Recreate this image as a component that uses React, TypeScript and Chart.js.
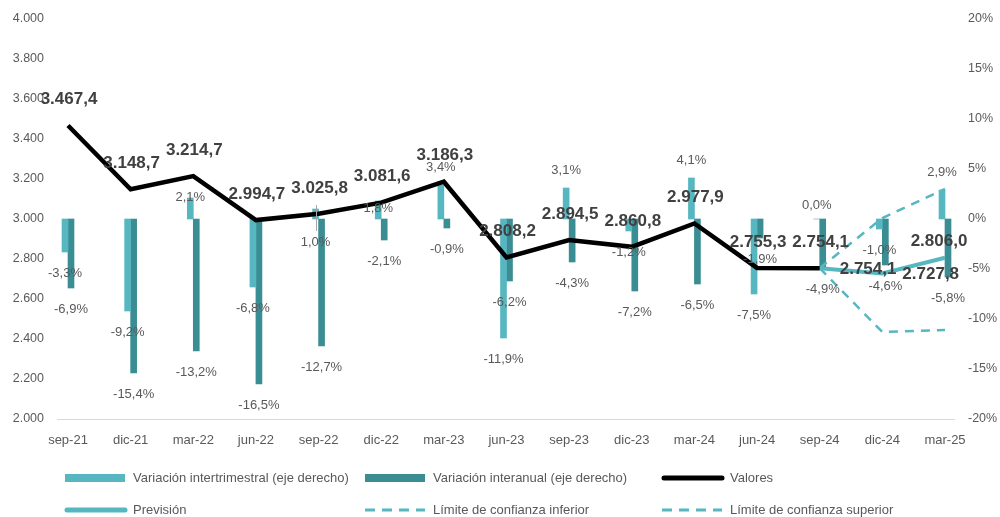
import React, { useEffect, useRef } from "react";
import { Chart, registerables } from "chart.js";

Chart.register(...registerables);

const categories = [
  "sep-21", "dic-21", "mar-22", "jun-22", "sep-22", "dic-22", "mar-23", "jun-23",
  "sep-23", "dic-23", "mar-24", "jun-24", "sep-24", "dic-24", "mar-25",
];
const intertrimestral = [-3.3, -9.2, 2.1, -6.8, 1.0, 1.8, 3.4, -11.9, 3.1, -1.2, 4.1, -7.5, 0.0, -1.0, 2.9];
const interanual = [-6.9, -15.4, -13.2, -16.5, -12.7, -2.1, -0.9, -6.2, -4.3, -7.2, -6.5, -1.9, -4.9, -4.6, -5.8];
const valores = [3467.4, 3148.7, 3214.7, 2994.7, 3025.8, 3081.6, 3186.3, 2808.2, 2894.5, 2860.8, 2977.9, 2755.3, 2754.1, null, null];
const prevision = [null, null, null, null, null, null, null, null, null, null, null, null, 2754.1, 2727.8, 2806.0];
const limiteInferior = [null, null, null, null, null, null, null, null, null, null, null, null, 2754.1, 2435, 2445];
const limiteSuperior = [null, null, null, null, null, null, null, null, null, null, null, null, 2754.1, 3005, 3150];

const leftMin = 2000;
const leftMax = 4000;
const leftStep = 200;
const rightMin = -20;
const rightMax = 20;
const rightStep = 5;

const LIGHT = "#57B7C1";
const DARK = "#3A8D93";
const TEXT = "#595959";
const VALUE_TEXT = "#404040";
const FONT = "'Liberation Sans', Arial, sans-serif";

function fmtNum(v: number, dec: number): string {
  const s = Math.abs(v).toFixed(dec);
  const [int, frac] = s.split(".");
  const withDots = int.replace(/\B(?=(\d{3})+(?!\d))/g, ".");
  return (v < 0 ? "-" : "") + withDots + (frac ? "," + frac : "");
}

// manual nudges of a few bar labels (dataset 0), in px
const barLabelNudge: Record<number, number> = { 2: 17, 4: 51, 5: 25, 12: 4 };
// placement of forecast labels
const previsionAlign: Record<number, string> = { 12: "right", 13: "right", 14: "top" };

const labelsPlugin = {
  id: "customLabels",
  afterDatasetsDraw(chart: any) {
    const ctx = chart.ctx;
    ctx.save();
    [0, 1].forEach((di) => {
      const meta = chart.getDatasetMeta(di);
      const data = chart.data.datasets[di].data as number[];
      ctx.font = `13px ${FONT}`;
      ctx.fillStyle = TEXT;
      ctx.textAlign = "center";
      ctx.textBaseline = "middle";
      meta.data.forEach((el: any, i: number) => {
        const v = data[i];
        if (v === null || v === undefined) return;
        let y = v < 0 ? el.y + 21 : el.y - 18;
        if (di === 0 && barLabelNudge[i]) y += barLabelNudge[i];
        ctx.fillText(fmtNum(v, 1) + "%", el.x, y);
      });
    });
    // thin leader line for the moved sep-22 label
    {
      const el: any = chart.getDatasetMeta(0).data[4];
      if (el) {
        ctx.strokeStyle = "#A6A6A6";
        ctx.lineWidth = 1;
        ctx.beginPath();
        ctx.moveTo(Math.round(el.x) + 0.5, el.y - 4);
        ctx.lineTo(Math.round(el.x) + 0.5, el.y + 22);
        ctx.stroke();
      }
    }
    ctx.font = `bold 17px ${FONT}`;
    ctx.fillStyle = VALUE_TEXT;
    {
      const meta = chart.getDatasetMeta(2);
      const data = chart.data.datasets[2].data as (number | null)[];
      meta.data.forEach((el: any, i: number) => {
        const v = data[i];
        if (v === null || v === undefined) return;
        ctx.textAlign = "center";
        ctx.textBaseline = "middle";
        ctx.fillText(fmtNum(v, 1), el.x + 1, el.y - 26);
      });
    }
    {
      const meta = chart.getDatasetMeta(3);
      const data = chart.data.datasets[3].data as (number | null)[];
      meta.data.forEach((el: any, i: number) => {
        const v = data[i];
        if (v === null || v === undefined) return;
        const al = previsionAlign[i] || "top";
        ctx.textBaseline = "middle";
        if (al === "right") {
          ctx.textAlign = "left";
          ctx.fillText(fmtNum(v, 1), el.x + 20, el.y + 1);
        } else {
          ctx.textAlign = "center";
          ctx.fillText(fmtNum(v, 1), el.x - 6, el.y - 16);
        }
      });
    }
    ctx.restore();
  },
};

const axisLinePlugin = {
  id: "axisLine",
  beforeDatasetsDraw(chart: any) {
    const { ctx, chartArea } = chart;
    ctx.save();
    ctx.strokeStyle = "#D9D9D9";
    ctx.lineWidth = 1;
    ctx.beginPath();
    ctx.moveTo(chartArea.left - 11, Math.round(chartArea.bottom) + 0.5);
    ctx.lineTo(chartArea.right + 10, Math.round(chartArea.bottom) + 0.5);
    ctx.stroke();
    ctx.restore();
  },
};

const legendPlugin = {
  id: "gridLegend",
  afterDraw(chart: any) {
    const ctx = chart.ctx;
    const cols = [65, 365, 662];
    const rows = [478, 510];
    const order = [0, 1, 2, 3, 4, 5];
    ctx.save();
    order.forEach((di, k) => {
      const ds = chart.data.datasets[di];
      const x = cols[k % 3];
      const y = rows[Math.floor(k / 3)];
      ctx.save();
      if (ds.type === "line") {
        ctx.strokeStyle = ds.borderColor;
        ctx.lineWidth = ds.borderDash ? 3 : 5;
        ctx.lineCap = ds.borderDash ? "butt" : "round";
        ctx.setLineDash(ds.borderDash ? [10, 7] : []);
        ctx.beginPath();
        ctx.moveTo(x + (ds.borderDash ? 0 : 2), y);
        ctx.lineTo(x + 60, y);
        ctx.stroke();
      } else {
        ctx.fillStyle = ds.backgroundColor;
        ctx.fillRect(x, y - 4, 60, 8);
      }
      ctx.restore();
      ctx.font = `13px ${FONT}`;
      ctx.fillStyle = TEXT;
      ctx.textAlign = "left";
      ctx.textBaseline = "middle";
      ctx.fillText(ds.label, x + 68, y);
    });
    ctx.restore();
  },
};

export default function App() {
  const canvasRef = useRef<HTMLCanvasElement | null>(null);

  useEffect(() => {
    if (!canvasRef.current) return;
    const chart = new Chart(canvasRef.current, {
      type: "bar",
      data: {
        labels: categories,
        datasets: [
          {
            type: "bar",
            label: "Variación intertrimestral (eje derecho)",
            data: intertrimestral,
            backgroundColor: LIGHT,
            yAxisID: "y1",
            barThickness: 6,
            order: 2,
            clip: false,
          } as any,
          {
            type: "bar",
            label: "Variación interanual (eje derecho)",
            data: interanual,
            backgroundColor: DARK,
            yAxisID: "y1",
            barThickness: 6,
            order: 2,
            clip: false,
          } as any,
          {
            type: "line",
            label: "Valores",
            data: valores,
            borderColor: "#000000",
            backgroundColor: "#000000",
            borderWidth: 4.5,
            pointRadius: 0,
            tension: 0,
            yAxisID: "y",
            order: 1,
          } as any,
          {
            type: "line",
            label: "Previsión",
            data: prevision,
            borderColor: LIGHT,
            backgroundColor: LIGHT,
            borderWidth: 4,
            pointRadius: 0,
            tension: 0,
            yAxisID: "y",
            order: 1,
          } as any,
          {
            type: "line",
            label: "Límite de confianza inferior",
            data: limiteInferior,
            borderColor: LIGHT,
            backgroundColor: LIGHT,
            borderWidth: 2.5,
            borderDash: [9, 7],
            pointRadius: 0,
            tension: 0,
            yAxisID: "y",
            order: 1,
          } as any,
          {
            type: "line",
            label: "Límite de confianza superior",
            data: limiteSuperior,
            borderColor: LIGHT,
            backgroundColor: LIGHT,
            borderWidth: 2.5,
            borderDash: [9, 7],
            pointRadius: 0,
            tension: 0,
            yAxisID: "y",
            order: 1,
          } as any,
        ],
      },
      options: {
        responsive: false,
        animation: false,
        layout: { padding: { top: 19, bottom: 68, left: 0, right: 0 } },
        plugins: {
          legend: { display: false },
          tooltip: { enabled: false },
        },
        scales: {
          x: {
            type: "category",
            offset: false,
            grid: { display: false, drawTicks: false },
            border: { display: false },
            ticks: {
              color: TEXT,
              font: { family: FONT, size: 13 },
              padding: 14,
              autoSkip: false,
              maxRotation: 0,
            },
            afterFit(scale: any) {
              scale.height = 30;
            },
          },
          y: {
            type: "linear",
            position: "left",
            min: leftMin,
            max: leftMax,
            grid: { display: false, drawTicks: true, tickLength: 20 },
            border: { display: false },
            ticks: {
              stepSize: leftStep,
              color: TEXT,
              font: { family: FONT, size: 12.5 },
              padding: 4,
              callback: (v: any) => fmtNum(Number(v), 0),
            },
            afterFit(scale: any) {
              scale.width = 68;
            },
          },
          y1: {
            type: "linear",
            position: "right",
            min: rightMin,
            max: rightMax,
            grid: { display: false, drawTicks: true, tickLength: 19 },
            border: { display: false },
            ticks: {
              stepSize: rightStep,
              color: TEXT,
              font: { family: FONT, size: 12.5 },
              padding: 4,
              callback: (v: any) => `${v}%`,
            },
            afterFit(scale: any) {
              scale.width = 55;
            },
          },
        },
      } as any,
      plugins: [axisLinePlugin, labelsPlugin, legendPlugin],
    });
    return () => chart.destroy();
  }, []);

  return (
    <div style={{ position: "fixed", left: 0, top: 0, width: 1000, height: 517, background: "#fff" }}>
      <canvas ref={canvasRef} width={1000} height={517} style={{ display: "block" }} />
    </div>
  );
}
